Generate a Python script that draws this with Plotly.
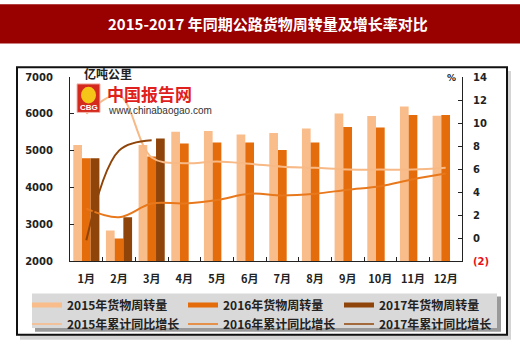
import plotly.graph_objects as go

months = ["1月", "2月", "3月", "4月", "5月", "6月", "7月", "8月", "9月", "10月", "11月", "12月"]
vol_2015 = [5150, 2830, 5150, 5510, 5530, 5440, 5480, 5600, 6010, 5940, 6200, 5950]
vol_2016 = [4790, 2610, 4840, 5195, 5220, 5220, 5015, 5220, 5640, 5625, 5965, 5965]
vol_2017 = [4790, 3190, 5330]
growth_2015 = [10.8, 12.4, 7.0, 6.5, 6.65, 6.45, 6.2, 6.1, 5.95, 5.95, 5.95, 6.1]
growth_2016 = [2.55, 1.8, 3.0, 3.0, 3.3, 3.85, 3.7, 3.85, 4.2, 4.5, 5.1, 5.6]
growth_2017 = [-0.2, 7.6, 8.5]
left_ticks = [2000, 3000, 4000, 5000, 6000, 7000]
right_ticks = [-2, 0, 2, 4, 6, 8, 10, 12, 14]
right_tick_text = ['<span style="color:#e8101a">(2)</span>', "0", "2", "4", "6", "8", "10", "12", "14"]
title = "2015-2017 年同期公路货物周转量及增长率对比"
names_bar = ["2015年货物周转量", "2016年货物周转量", "2017年货物周转量"]
names_line = ["2015年累计同比增长", "2016年累计同比增长", "2017年累计同比增长"]

C15 = "#f9bd8c"
C16 = "#e46c0a"
C17 = "#8f4409"
L15 = "#f7b985"
L16 = "#e8781c"
L17 = "#8f4409"

W, H = 520, 351
PL, PR, PT, PB = 70, 462, 77, 264


def px(x):
    return (x - PL) / (PR - PL)


def py(y):
    return (PB - y) / (PB - PT)


fig = go.Figure()
for vals, col, nm in [(vol_2015, C15, names_bar[0]), (vol_2016, C16, names_bar[1]), (vol_2017, C17, names_bar[2])]:
    fig.add_trace(go.Bar(x=months[:len(vals)], y=vals, marker=dict(color=col, line=dict(width=0)),
                         name=nm, showlegend=False, yaxis="y"))

for vals, col, nm in [(growth_2015, L15, names_line[0]), (growth_2016, L16, names_line[1]), (growth_2017, L17, names_line[2])]:
    fig.add_trace(go.Scatter(x=months[:len(vals)], y=vals, mode="lines", line=dict(color=col, width=2, shape="spline", smoothing=1.0),
                             name=nm, showlegend=False, yaxis="y2"))

# legend entries: three vertical legends (one per column)
legend_ids = ["legend", "legend2", "legend3"]
for i, (nb, nl, cb, cl) in enumerate(zip(names_bar, names_line, [C15, C16, C17], [L15, L16, L17])):
    fig.add_trace(go.Scatter(x=[None], y=[None], mode="lines", line=dict(color=cb, width=5), name=nb,
                             legend=legend_ids[i], showlegend=True))
    fig.add_trace(go.Scatter(x=[None], y=[None], mode="lines", line=dict(color=cl, width=1.5), name=nl,
                             legend=legend_ids[i], showlegend=True))

leg_font = dict(family="Noto Sans CJK SC", size=12, color="#222222", weight="bold")
col_x = [27, 183, 339]
legends = {}
for i, lid in enumerate(legend_ids):
    legends[lid] = dict(x=px(col_x[i]), y=py(294), xanchor="left", yanchor="top", orientation="v",
                        bgcolor="rgba(0,0,0,0)", font=leg_font, tracegroupgap=0, itemwidth=30)

shapes = [
    dict(type="rect", xref="paper", yref="paper", x0=px(0), x1=px(520), y0=py(43), y1=py(3),
         fillcolor="#990000", line=dict(width=0), layer="below"),
    dict(type="rect", xref="paper", yref="paper", x0=px(20), x1=px(511), y0=py(344), y1=py(71),
         fillcolor="#d4d4d4", line=dict(width=0), layer="below"),
    dict(type="rect", xref="paper", yref="paper", x0=px(17), x1=px(507), y0=py(339), y1=py(67),
         fillcolor="white", line=dict(color="#111111", width=2), layer="below"),
    dict(type="rect", xref="paper", yref="paper", x0=px(35), x1=px(501), y0=py(336), y1=py(300),
         fillcolor="#9a9a9a", line=dict(width=0), layer="below"),
    dict(type="rect", xref="paper", yref="paper", x0=px(32), x1=px(497), y0=py(332), y1=py(297),
         fillcolor="#d9d9d9", line=dict(width=0), layer="below"),
    # watermark logo
    dict(type="rect", xref="paper", yref="paper", x0=px(77), x1=px(100), y0=py(113), y1=py(84),
         fillcolor="#d42a1e", line=dict(color="#f2b8b0", width=1), layer="above"),
    dict(type="circle", xref="paper", yref="paper", x0=px(81), x1=px(96), y0=py(104), y1=py(87),
         fillcolor="#f5c518", line=dict(width=0), layer="above"),
]

annotations = [
    dict(text="<b>" + title + "</b>", x=px(268), y=py(23), xref="paper", yref="paper", showarrow=False,
         font=dict(family="Noto Sans CJK SC", size=15, color="white"), xanchor="center", yanchor="middle"),
    dict(text="亿吨公里", x=px(82), y=py(73.5), xref="paper", yref="paper", showarrow=False,
         font=dict(family="Noto Sans CJK SC", size=12, color="#222222", weight="bold"), xanchor="left", yanchor="middle"),
    dict(text="%", x=px(451), y=py(78), xref="paper", yref="paper", showarrow=False,
         font=dict(family="DejaVu Sans", size=9, color="#222222", weight="bold"), xanchor="center", yanchor="middle"),
    dict(text="中国报告网", x=px(105), y=py(93.5), xref="paper", yref="paper", showarrow=False,
         font=dict(family="Noto Sans CJK SC", size=17, color="#e0201c", weight="bold"), xanchor="left", yanchor="middle"),
    dict(text="www.chinabaogao.com", x=px(106), y=py(111.5), xref="paper", yref="paper", showarrow=False,
         font=dict(family="Liberation Sans", size=10, color="#333333"), xanchor="left", yanchor="middle"),
    dict(text="CBG", x=px(88.5), y=py(108), xref="paper", yref="paper", showarrow=False,
         font=dict(family="Liberation Sans", size=8, color="white", weight="bold"), xanchor="center", yanchor="middle"),
]

tick_font = dict(family="DejaVu Sans", size=10, color="#222222", weight="bold")

fig.update_layout(
    width=W, height=H,
    margin=dict(l=PL, r=W - PR, t=PT, b=H - PB, pad=0),
    paper_bgcolor="white", plot_bgcolor="rgba(0,0,0,0)",
    barmode="group", bargap=0.2, bargroupgap=0,
    showlegend=True,
    shapes=shapes, annotations=annotations,
    xaxis=dict(type="category", categoryorder="array", categoryarray=months, range=[-0.5, 11.5],
               showline=True, linecolor="#222222", linewidth=1, ticks="inside", ticklen=4, tickcolor="#222222",
               tickson="boundaries", showgrid=False, zeroline=False, tickangle=0,
               tickfont=dict(family="Noto Sans CJK SC", size=11, color="#222222", weight="bold"), ticklabelstandoff=8),
    yaxis=dict(range=[2000, 7000], tickvals=left_ticks, showline=True, linecolor="#222222", linewidth=1,
               ticks="inside", ticklen=4, tickcolor="#222222", showgrid=False, zeroline=False,
               tickfont=tick_font, ticklabelstandoff=14),
    yaxis2=dict(range=[-2, 14], tickvals=right_ticks, ticktext=right_tick_text, overlaying="y", side="right",
                showline=True, linecolor="#222222", linewidth=1, ticks="inside", ticklen=4, tickcolor="#222222",
                showgrid=False, zeroline=False, tickfont=tick_font, ticklabelstandoff=8),
    **legends,
)

fig.write_html("out.html")
